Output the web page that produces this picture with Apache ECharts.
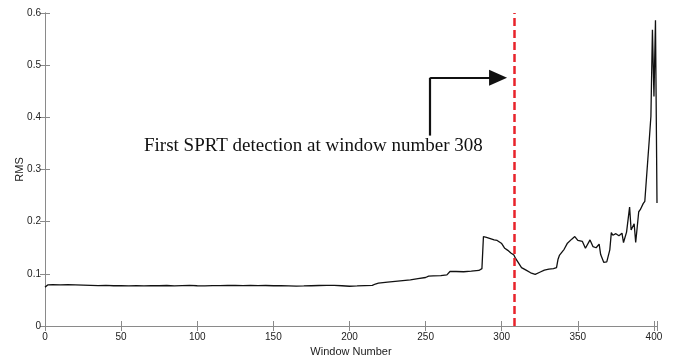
<!DOCTYPE html>
<html>
<head>
<meta charset="utf-8">
<script src="https://cdn.jsdelivr.net/npm/echarts@6/dist/echarts.min.js"></script>
<style>
  html, body { margin: 0; padding: 0; background: #fff; }
  #chart { width: 674px; height: 358px; }
</style>
</head>
<body>
<div id="chart"></div>
<script>
// window numbers and RMS values
const windows = [
  0, 2, 5, 10, 15, 20, 25, 30, 35, 40, 45, 50, 55, 60, 65, 70, 75, 80, 85, 90,
  95, 100, 105, 110, 115, 120, 125, 130, 135, 140, 145, 150, 155, 160, 165, 170,
  175, 180, 185, 190, 195, 200, 205, 210, 215, 217, 219, 225, 230, 235, 240, 245,
  250, 252, 255, 260, 264, 266, 270, 275, 280, 285, 287, 288, 290, 292, 295, 297,
  298, 300, 302, 304, 306, 308, 309, 311, 313, 316, 319, 322, 325, 328, 331, 334,
  336, 337, 338, 341, 343, 346, 348, 350, 353, 355, 356, 358, 360, 362, 364, 365,
  367, 368, 369, 371, 372, 373, 375, 377, 379, 380, 382, 384, 385, 387, 388, 390,
  391, 393, 394, 395, 396, 397, 398, 399, 400, 401, 402
];
const rms = [
  0.0745, 0.079, 0.0795, 0.079, 0.0792, 0.079, 0.0785, 0.078, 0.0775, 0.0778, 0.0772, 0.0775, 0.0768, 0.0772, 0.0768, 0.0775, 0.0772, 0.0776, 0.077, 0.0775,
  0.0778, 0.0772, 0.0768, 0.0775, 0.0773, 0.0778, 0.0776, 0.0774, 0.0777, 0.0773, 0.0776, 0.0772, 0.0775, 0.077, 0.0765, 0.0768,
  0.0772, 0.0776, 0.0778, 0.0777, 0.0772, 0.0762, 0.0768, 0.0775, 0.0778, 0.0805, 0.082, 0.084, 0.0855, 0.087, 0.0885, 0.091,
  0.093, 0.0955, 0.0962, 0.0965, 0.098, 0.1045, 0.1045, 0.104, 0.105, 0.1065, 0.11, 0.1715, 0.17, 0.168, 0.165, 0.164,
  0.166, 0.158, 0.149, 0.145, 0.14, 0.136, 0.13, 0.121, 0.112, 0.107, 0.102, 0.099, 0.103, 0.107, 0.109, 0.11,
  0.112, 0.128, 0.136, 0.147, 0.158, 0.1665, 0.1715, 0.164, 0.162, 0.149, 0.15, 0.165, 0.152, 0.15, 0.157, 0.137,
  0.122, 0.119, 0.123, 0.146, 0.179, 0.174, 0.177, 0.173, 0.178, 0.16, 0.18, 0.228, 0.184, 0.196, 0.16, 0.219,
  0.223, 0.235, 0.239, 0.28, 0.32, 0.36, 0.402, 0.568, 0.44, 0.586, 0.236
];

const detectionWindow = 308;
// arrow path in data units: vertical stem then horizontal towards the detection line
const arrowStem = [[253, 0.365], [253, 0.476]];
const arrowHead = [[253, 0.476], [297.6, 0.476]];
const note = 'First SPRT detection at window number 308';

const chart = echarts.init(document.getElementById('chart'));

const boxColor = '#8a8a8a';
const tickStyle = { show: true, inside: true, length: 5, lineStyle: { color: boxColor } };
const labelFont = { fontFamily: 'Liberation Sans', fontSize: 10, color: '#222' };

chart.setOption({
  animation: false,
  grid: { left: 45, right: 17, top: 13, bottom: 32, outerBoundsMode: 'none', containLabel: false },
  xAxis: [
    {
      type: 'value', min: 0, max: 402, interval: 50,
      name: 'Window Number', nameLocation: 'middle', nameGap: 20,
      nameTextStyle: { fontFamily: 'Liberation Sans', fontSize: 11, color: '#222' },
      axisLine: { show: true, lineStyle: { color: boxColor } },
      axisTick: tickStyle,
      axisLabel: Object.assign({ margin: 6, formatter: v => (v % 50 === 0 ? String(v) : '') }, labelFont),
      splitLine: { show: false }
    },
    {
      type: 'value', min: 0, max: 402, interval: 50, position: 'top',
      axisLine: { show: true, lineStyle: { color: boxColor } },
      axisTick: tickStyle, axisLabel: { show: false }, splitLine: { show: false }
    }
  ],
  yAxis: [
    {
      type: 'value', min: 0, max: 0.6, interval: 0.1,
      name: 'RMS', nameLocation: 'middle', nameGap: 20, nameMoveOverlap: false,
      nameTextStyle: { fontFamily: 'Liberation Sans', fontSize: 11, color: '#222' },
      axisLine: { show: true, lineStyle: { color: boxColor } },
      axisTick: tickStyle,
      axisLabel: Object.assign({ margin: 4 }, labelFont),
      splitLine: { show: false }
    },
    {
      type: 'value', min: 0, max: 0.6, interval: 0.1, position: 'right',
      axisLine: { show: true, lineStyle: { color: boxColor } },
      axisTick: tickStyle, axisLabel: { show: false }, splitLine: { show: false }
    }
  ],
  series: [
    {
      type: 'line',
      data: windows.map((w, i) => [w, rms[i]]),
      showSymbol: false,
      lineStyle: { color: '#111', width: 1.3 },
      z: 3,
      markLine: {
        silent: true,
        symbol: 'none',
        label: { show: false },
        data: [
          [
            { coord: [detectionWindow, 0], lineStyle: { color: '#e8232b', width: 2.5, type: [8, 4] } },
            { coord: [detectionWindow, 0.6] }
          ]
        ]
      }
    },
    {
      type: 'line',
      data: [],
      markLine: {
        silent: true,
        label: { show: false },
        lineStyle: { color: '#111', width: 2.2, type: 'solid' },
        data: [
          [
            { coord: arrowStem[0], symbol: 'none' },
            { coord: arrowStem[1], symbol: 'none' }
          ],
          [
            { coord: arrowHead[0], symbol: 'none' },
            { coord: arrowHead[1], symbol: 'triangle', symbolSize: [16, 18] }
          ]
        ]
      }
    }
  ],
  graphic: [
    {
      type: 'text', left: 144, top: 137,
      style: { text: note, fontFamily: 'Liberation Serif', fontSize: 19, fill: '#111' }
    }
  ]
});
</script>
</body>
</html>
